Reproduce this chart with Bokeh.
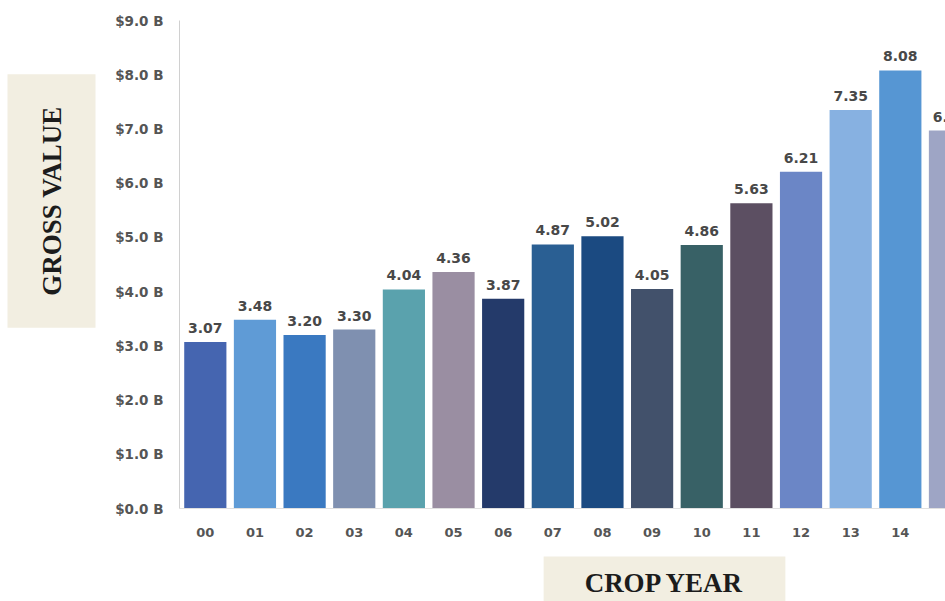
import math
from bokeh.plotting import figure
from bokeh.models import ColumnDataSource, Range1d, FixedTicker, Label, LabelSet
from bokeh.core.properties import value
from bokeh.embed import file_html
from bokeh.resources import INLINE

years = ["00", "01", "02", "03", "04", "05", "06", "07", "08", "09", "10", "11", "12", "13", "14", "15"]
values = [3.07, 3.48, 3.20, 3.30, 4.04, 4.36, 3.87, 4.87, 5.02, 4.05, 4.86, 5.63, 6.21, 7.35, 8.08, 6.97]
colors = ["#4565b0", "#5f9bd6", "#3a79c1", "#7f90b0", "#5aa2ad", "#9a8ea2", "#243a6a", "#2a5f93",
          "#1b4a81", "#42516b", "#386166", "#5c4f62", "#6b86c6", "#87b1e1", "#5696d3", "#9ea5c5"]
y_ticks = [0, 1, 2, 3, 4, 5, 6, 7, 8, 9]
y_tick_labels = ["$%.1f B" % t for t in y_ticks]
x_title = "CROP YEAR"
y_title = "GROSS VALUE"

xs = list(range(len(years)))
src = ColumnDataSource(dict(x=xs, top=values, color=colors, label=["%.2f" % v for v in values]))

X0, X1 = -0.52, 14.91
p = figure(width=945, height=601, output_backend="svg", toolbar_location=None,
           x_range=Range1d(X0, X1), y_range=Range1d(0, 9),
           min_border_left=179, min_border_right=0, min_border_top=20, min_border_bottom=93)
p.frame_width = 766
p.frame_height = 488
p.outline_line_color = None
p.background_fill_color = "white"
p.border_fill_color = "white"
p.xgrid.grid_line_color = None
p.ygrid.grid_line_color = None

p.vbar(x="x", top="top", width=0.85, bottom=0, fill_color="color", line_color=None, source=src)

labels = LabelSet(x="x", y="top", text="label", source=src, text_align="center",
                  text_baseline="bottom", y_offset=9, text_font=value("DejaVu Sans"),
                  text_font_style="bold", text_font_size="14px", text_color="#484848")
p.add_layout(labels)

p.yaxis.ticker = FixedTicker(ticks=y_ticks)
p.yaxis.major_label_overrides = {t: l for t, l in zip(y_ticks, y_tick_labels)}
p.yaxis.major_tick_line_color = None
p.yaxis.major_tick_out = 0
p.yaxis.minor_tick_line_color = None
p.yaxis.minor_tick_out = 0
p.yaxis.axis_line_color = "#d0d0d0"
p.yaxis.major_label_standoff = 16
p.yaxis.major_label_text_font = "DejaVu Sans"
p.yaxis.major_label_text_font_style = "bold"
p.yaxis.major_label_text_font_size = "13.5px"
p.yaxis.major_label_text_color = "#555555"

p.xaxis.ticker = FixedTicker(ticks=xs)
p.xaxis.major_label_overrides = {i: y for i, y in zip(xs, years)}
p.xaxis.major_tick_line_color = None
p.xaxis.major_tick_out = 0
p.xaxis.minor_tick_line_color = None
p.xaxis.minor_tick_out = 0
p.xaxis.axis_line_color = "#e0e0e0"
p.xaxis.major_label_standoff = 19
p.xaxis.major_label_text_font = "DejaVu Sans"
p.xaxis.major_label_text_font_style = "bold"
p.xaxis.major_label_text_font_size = "13px"
p.xaxis.major_label_text_color = "#555555"

ytitle = Label(x=33, y=307.5, x_units="screen", y_units="screen", text=y_title,
               angle=math.pi / 2, text_align="center", text_baseline="middle",
               text_font="Liberation Serif", text_font_style="bold", text_font_size="27px",
               text_color="#1c1c1c", background_fill_color="#f2eee1", padding=(32, 29))
p.add_layout(ytitle, "left")

xtitle = Label(x=485, y=9, x_units="screen", y_units="screen", text=x_title,
               text_align="center", text_baseline="middle",
               text_font="Liberation Serif", text_font_style="bold", text_font_size="27px",
               text_color="#1c1c1c", background_fill_color="#f2eee1", padding=(41, 11))
p.add_layout(xtitle, "below")

open("out.html", "w").write(file_html(p, INLINE))
